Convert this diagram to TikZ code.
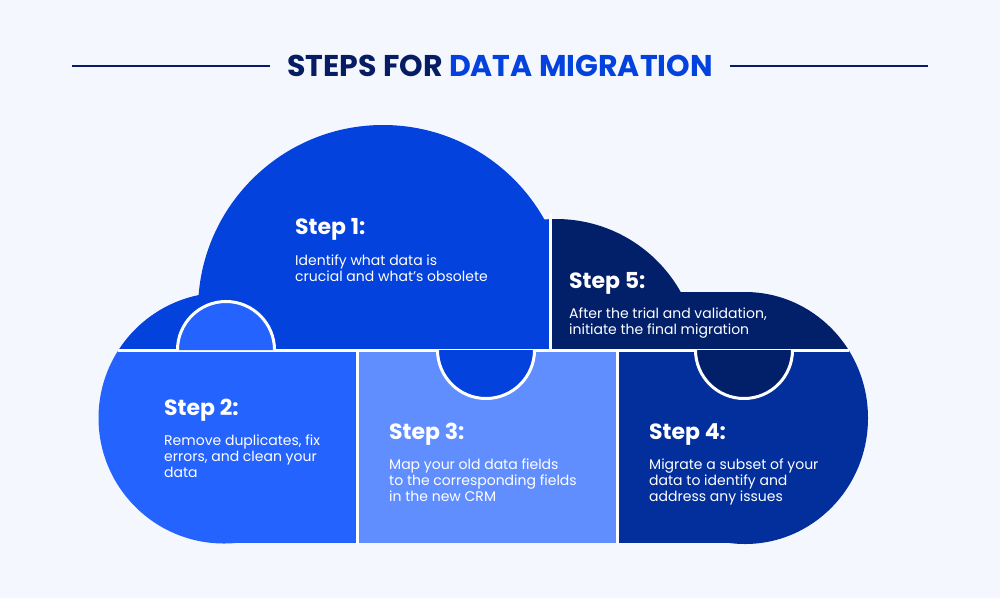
\documentclass[tikz,border=0pt]{standalone}
\usepackage{fontspec}
\setmainfont{Poppins}
\definecolor{bg}{HTML}{F4F7FE}
\definecolor{navy}{HTML}{071D63}
\definecolor{cA}{HTML}{0342DC}
\definecolor{cB}{HTML}{2563FE}
\definecolor{cC}{HTML}{618EFE}
\definecolor{cD}{HTML}{022F9C}
\definecolor{cE}{HTML}{021F6A}
\newcommand\cloudfill[1]{%
  \fill[#1] (224,418) circle[radius=125.5];
  \fill[#1] (383,310) circle[radius=185];
  \fill[#1] (556,362) circle[radius=143];
  \fill[#1] (745,418) ellipse[x radius=123,y radius=126];
  \fill[#1] (680,292) rectangle (745,418);
  \fill[#1] (224,350) rectangle (745,543);
}
\tikzset{
  sep/.style={draw=white,line width=3pt},
  head/.style={anchor=base west,inner sep=0pt,text=white,font=\fontsize{22}{26}\selectfont\bfseries},
  body/.style={anchor=base west,inner sep=0pt,text=white,align=left,font=\fontsize{14}{16}\selectfont},
  rule/.style={draw=navy,line width=1.6pt}
}
\begin{document}
\begin{tikzpicture}[x=1pt,y=-1pt]
\useasboundingbox (0,0) rectangle (1000,598);
\fill[bg] (0,0) rectangle (1000,598);
% title
\node[anchor=base,inner sep=0pt,font=\fontsize{30}{34}\selectfont\bfseries] (title) at (500,76)
  {\textcolor{navy}{STEPS FOR} \textcolor{cA}{DATA MIGRATION}};
\coordinate (l1) at (72,66); \coordinate (l2) at (270,66);
\coordinate (r1) at (730,66); \coordinate (r2) at (928,66);
\draw[rule] (l1) -- (l2);
\draw[rule] (r1) -- (r2);
% pieces
\begin{scope}\clip (0,0) rectangle (550,350); \cloudfill{cA}\end{scope}
\begin{scope}\clip (550,0) rectangle (1000,350); \cloudfill{cE}\end{scope}
\begin{scope}\clip (0,350) rectangle (357,598); \cloudfill{cB}\end{scope}
\begin{scope}\clip (357,350) rectangle (617,598); \cloudfill{cC}\end{scope}
\begin{scope}\clip (617,350) rectangle (1000,598); \cloudfill{cD}\end{scope}
% separators
\draw[sep] (118,350) -- (849,350);
\draw[sep] (357,350) -- (357,543);
\draw[sep] (617,350) -- (617,543);
\draw[sep] (550,213) -- (550,350);
% knobs
\fill[cB] (177.5,350) arc[start angle=180,end angle=360,radius=48.5] -- cycle;
\draw[sep] (177.5,350) arc[start angle=180,end angle=360,radius=48.5];
\fill[cA] (534.5,350) arc[start angle=0,end angle=180,radius=48.5] -- cycle;
\draw[sep] (534.5,350) arc[start angle=0,end angle=180,radius=48.5];
\fill[cE] (792.5,350) arc[start angle=0,end angle=180,radius=48.5] -- cycle;
\draw[sep] (792.5,350) arc[start angle=0,end angle=180,radius=48.5];
% texts (body nodes: base = baseline of last line)
\node[head] (h1) at (295,234) {Step 1:};
\node[body] (b1) at (295,281) {Identify what data is\\crucial and what’s obsolete};
\node[head] (h5) at (569,288) {Step 5:};
\node[body] (b5) at (569,334) {After the trial and validation,\\initiate the final migration};
\node[head] (h2) at (164,415) {Step 2:};
\node[body] (b2) at (164,477) {Remove duplicates, fix\\errors, and clean your\\data};
\node[head] (h3) at (389,439) {Step 3:};
\node[body] (b3) at (389,501) {Map your old data fields\\to the corresponding fields\\in the new CRM};
\node[head] (h4) at (649,439) {Step 4:};
\node[body] (b4) at (649,501) {Migrate a subset of your\\data to identify and\\address any issues};
\end{tikzpicture}
\end{document}
